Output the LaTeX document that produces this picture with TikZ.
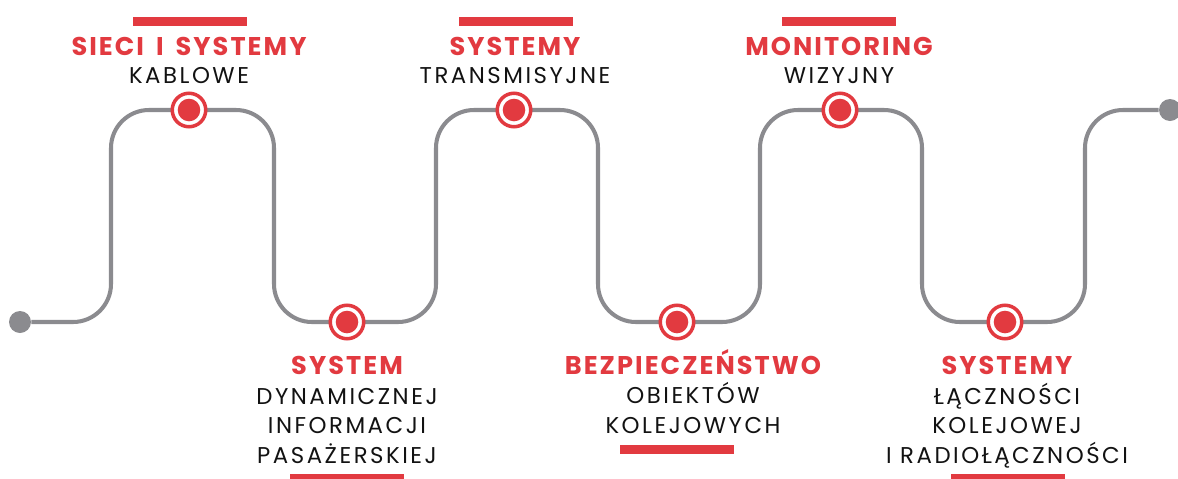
\documentclass[tikz,border=0pt]{standalone}
\usepackage{fontspec}
\setmainfont{Poppins}
\newfontfamily\headfont[LetterSpace=8,WordSpace=1.6]{Poppins}
\newfontfamily\bodyfont[LetterSpace=11]{Poppins}
\usetikzlibrary{calc}

\definecolor{railred}{HTML}{E23A40}
\definecolor{railgray}{HTML}{8B8B8F}
\tikzset{
  ring/.style={circle, draw=railred, fill=white, line width=2pt, minimum size=0.67cm, inner sep=0pt,
    path picture={\fill[railred] (path picture bounding box.center) circle[radius=0.226cm];}},
  title/.style={anchor=base, text=railred, font=\headfont\fontsize{14.6}{16}\selectfont\bfseries},
  caption/.style={anchor=base, align=center, text=black!93, font=\bodyfont\fontsize{13}{16.7}\selectfont},
  endpoint/.style={circle, fill=railgray, minimum size=0.44cm, inner sep=0pt},
}

\begin{document}
\begin{tikzpicture}[x=0.02cm, y=-0.02cm]
    \useasboundingbox (0,0) rectangle (1178,478);
    \node[endpoint] (start) at (20,322) {};
    \node[endpoint] (end) at (1170,110) {};
    % the wave
    \draw[railgray, line width=2.3pt, rounded corners=0.76cm] (start) -- (111,322) -- (111,110) -- (274,110)
        -- (274,322) -- (436,322) -- (436,110) -- (598,110) -- (598,322) -- (760,322) -- (760,110)
        -- (922,110) -- (922,322) -- (1085,322) -- (1085,110) -- (end);
    \node[ring] (m1) at (189,110) {};
    \node[ring] (m2) at (347,322) {};
    \node[ring] (m3) at (514,110) {};
    \node[ring] (m4) at (677,322) {};
    \node[ring] (m5) at (840,110) {};
    \node[ring] (m6) at (1005,322) {};
    % bars
    \fill[railred] (133,17) rectangle (247,26);
    \fill[railred] (459,17) rectangle (573,26);
    \fill[railred] (782,17) rectangle (896,26);
    \fill[railred] (290,474) rectangle (404,483);
    \fill[railred] (620,445) rectangle (734,454);
    \fill[railred] (951,474) rectangle (1065,483);
    % labels (multi-line captions sit on their last baseline)
    \node[title] (t1) at (189,55) {SIECI I SYSTEMY};
    \node[caption] (c1) at (189,83) {KABLOWE};
    \node[title] (t2) at (347,374) {SYSTEM};
    \node[caption] (c2) at (347,463) {DYNAMICZNEJ\\INFORMACJI\\PASAŻERSKIEJ};
    \node[title] (t3) at (515,55) {SYSTEMY};
    \node[caption] (c3) at (515,83) {TRANSMISYJNE};
    \node[title] (t4) at (693,374) {BEZPIECZEŃSTWO};
    \node[caption] (c4) at (693,433) {OBIEKTÓW\\KOLEJOWYCH};
    \node[title] (t5) at (839,55) {MONITORING};
    \node[caption] (c5) at (839,83) {WIZYJNY};
    \node[title] (t6) at (1007,374) {SYSTEMY};
    \node[caption] (c6) at (1007,463) {ŁĄCZNOŚCI\\KOLEJOWEJ\\I RADIOŁĄCZNOŚCI};
\end{tikzpicture}
\end{document}
